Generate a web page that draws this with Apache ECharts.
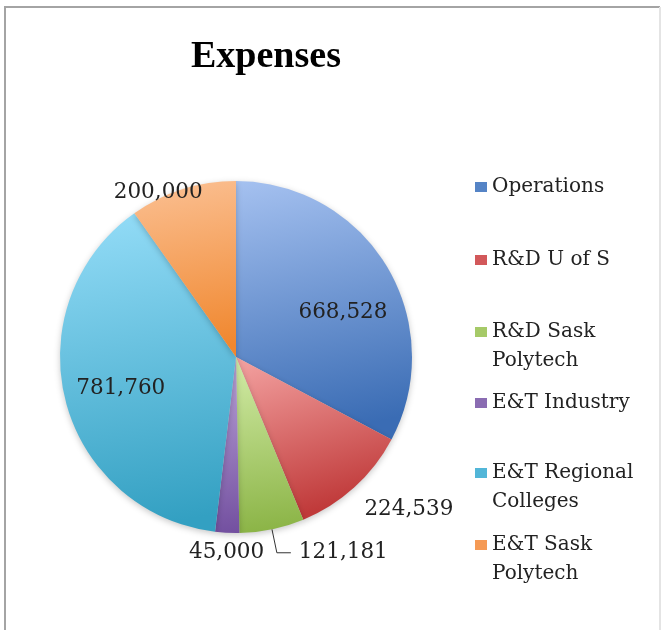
<!DOCTYPE html>
<html>
<head>
<meta charset="utf-8">
<script src="https://cdn.jsdelivr.net/npm/echarts@6/dist/echarts.min.js"></script>
<style>
  html, body { margin: 0; padding: 0; background: #fff; }
  #chart { width: 662px; height: 630px; }
</style>
</head>
<body>
<div id="chart"></div>
<script>
// data
var categories = ['Operations', 'R&D U of S', 'R&D Sask Polytech', 'E&T Industry', 'E&T Regional Colleges', 'E&T Sask Polytech'];
var legendLabels = ['Operations', 'R&D U of S', 'R&D Sask\nPolytech', 'E&T Industry', 'E&T Regional\nColleges', 'E&T Sask\nPolytech'];
var values = [668528, 224539, 121181, 45000, 781760, 200000];

// styling
var topColors = ['#a5c1f0', '#f4a3a2', '#d3eca8', '#bba4d8', '#95ddf8', '#fbc093'];
var bottomColors = ['#3a6cb4', '#c03a3a', '#8bb446', '#7350a0', '#33a0c2', '#f0872e'];
var legendColors = ['#5584c6', '#d2585a', '#a6ca68', '#8a6cb2', '#52b6d8', '#f59a55'];
var labelPos = ['inside', 'outside', 'outside', 'outside', 'inside', 'outside'];
var labelShift = [[29, 2], [2, 22], [0, 0], [45, 20], [-27, 9], [28, 3]];
var legendTops = [187, 260, 332, 403, 473, 545];

var serif = 'DejaVu Serif';

var pieData = values.map(function (v, i) {
    var hasLine = i === 2;
    return {
        name: categories[i],
        value: v,
        itemStyle: {
            color: {
                type: 'linear', x: 0, y: 0, x2: 0.3, y2: 1,
                colorStops: [
                    { offset: 0, color: topColors[i] },
                    { offset: 1, color: bottomColors[i] }
                ]
            }
        },
        label: { position: labelPos[i] },
        labelLine: {
            show: hasLine,
            length: hasLine ? 24 : 0,
            length2: hasLine ? 14 : 0
        }
    };
});

// two-line legend entries: tall icon box whose visible square sits at the top,
// so the marker lines up with the first text line
var legends = categories.map(function (name, i) {
    var twoLines = legendLabels[i].indexOf('\n') >= 0;
    return {
        orient: 'vertical',
        left: 475,
        top: legendTops[i] - 14.5,
        padding: 0,
        icon: twoLines ? 'path://M0,0L12,0L12,10L0,10ZM0,39L12,39' : 'rect',
        itemWidth: 12,
        itemHeight: twoLines ? 39 : 10,
        selectedMode: false,
        data: [{ name: name, itemStyle: { color: legendColors[i] } }],
        formatter: function (n) { return legendLabels[categories.indexOf(n)]; },
        textStyle: {
            fontFamily: serif,
            fontSize: 20,
            color: '#222',
            lineHeight: 29
        }
    };
});

var chart = echarts.init(document.getElementById('chart'));
var option = {
    backgroundColor: '#fff',
    animation: false,
    title: {
        text: 'Expenses',
        left: 191,
        top: 38,
        padding: 0,
        textStyle: {
            fontFamily: 'Liberation Serif',
            fontWeight: 'bold',
            fontSize: 38,
            color: '#000'
        }
    },
    legend: legends,
    graphic: [{
        type: 'polyline',
        shape: { points: [[5, 640], [5, 7], [660, 7]] },
        style: { fill: 'none', stroke: '#a4a4a4', lineWidth: 2 },
        silent: true
    }, {
        type: 'line',
        shape: { x1: 660, y1: 7, x2: 660, y2: 640 },
        style: { stroke: '#e4e4e4', lineWidth: 2 },
        silent: true
    }],
    series: [{
        name: 'Expenses',
        type: 'pie',
        center: [236, 357],
        radius: 176,
        startAngle: 90,
        clockwise: true,
        avoidLabelOverlap: false,
        itemStyle: {
            borderWidth: 0,
            shadowBlur: 6,
            shadowColor: 'rgba(0,0,0,0.22)',
            shadowOffsetY: 2
        },
        label: {
            show: true,
            fontFamily: serif,
            fontSize: 21.5,
            color: '#222',
            distanceToLabelLine: 8,
            formatter: function (p) { return p.value.toLocaleString('en-US'); }
        },
        labelLine: {
            lineStyle: { color: '#333', width: 1 }
        },
        labelLayout: function (p) {
            var s = labelShift[p.dataIndex];
            return { dx: s[0], dy: s[1] };
        },
        data: pieData
    }]
};
chart.setOption(option);
</script>
</body>
</html>
